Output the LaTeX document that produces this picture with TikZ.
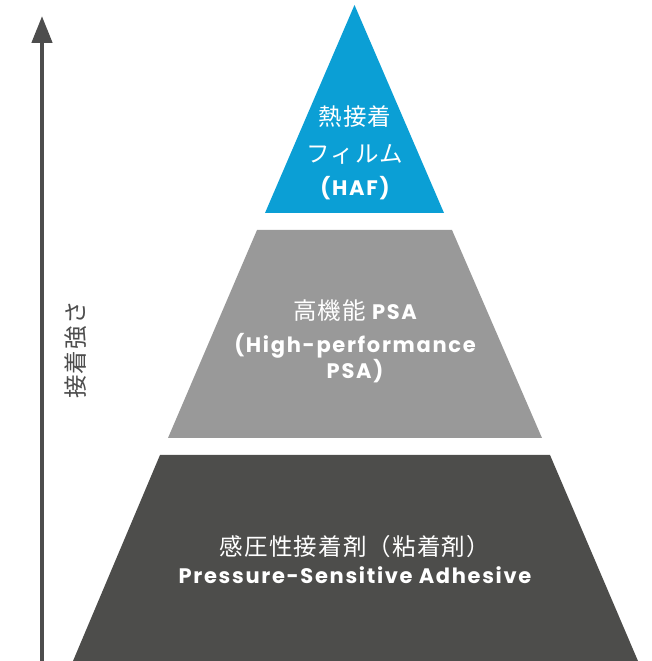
\documentclass[tikz,border=0pt]{standalone}
\usepackage{fontspec}
\setmainfont[LetterSpace=8]{Poppins}
\newfontfamily\jpfont[LetterSpace=5]{Noto Sans CJK JP}
\usepackage{xcolor}
\usetikzlibrary{arrows.meta,positioning,calc}
\definecolor{hafblue}{HTML}{0B9FD5}
\definecolor{psagray}{HTML}{999999}
\definecolor{basegray}{HTML}{4D4D4B}
\definecolor{arrowgray}{HTML}{4D4D4D}
\newcommand{\jpsize}{\jpfont\mdseries\fontsize{23.5}{26}\selectfont}

\begin{document}
\begin{tikzpicture}[x=1pt, y=1pt,
    jptext/.style={text=white, font=\jpsize, anchor=base, inner sep=0pt},
    entext/.style={text=white, font=\bfseries\fontsize{21}{24}\selectfont, anchor=base, inner sep=0pt}]
    \useasboundingbox (0,0) rectangle (652,661);

    % Strength axis
    \coordinate (A0) at (42,0);
    \coordinate (A1) at (42,645);
    \draw[arrowgray, line width=4.5pt, -{Triangle[length=27pt, width=20pt]}] (A0) -- (A1);
    \node[rotate=90, text=arrowgray, font=\jpsize, inner sep=0pt] (axis) at (76,311) {接着強さ};

    % Bottom layer
    \fill[basegray] (73,0) -- (638,0) -- (550,206) -- (160,206) -- cycle;
    % Middle layer
    \fill[psagray] (168,223) -- (542,223) -- (452,431) -- (257,431) -- cycle;
    % Top layer
    \fill[hafblue] (265,448) -- (444,448) -- (354.5,656) -- cycle;

    % Labels, top
    \node[jptext] (haf1) at (355,535) {熱接着};
    \node[jptext] (haf2) at (355,498) {フィルム};
    \node[entext] (haf3) at (355,465) {(HAF)};
    % Labels, middle
    \node[entext] (psa1) at (355,341) {{\jpsize 高機能} PSA};
    \node[entext] (psa2) at (355,308) {(High-performance};
    \node[entext] (psa3) at (355,282) {PSA)};
    % Labels, bottom
    \node[jptext] (base1) at (355,105) {感圧性接着剤（粘着剤）};
    \node[entext] (base2) at (355,77) {Pressure-Sensitive Adhesive};
\end{tikzpicture}
\end{document}
